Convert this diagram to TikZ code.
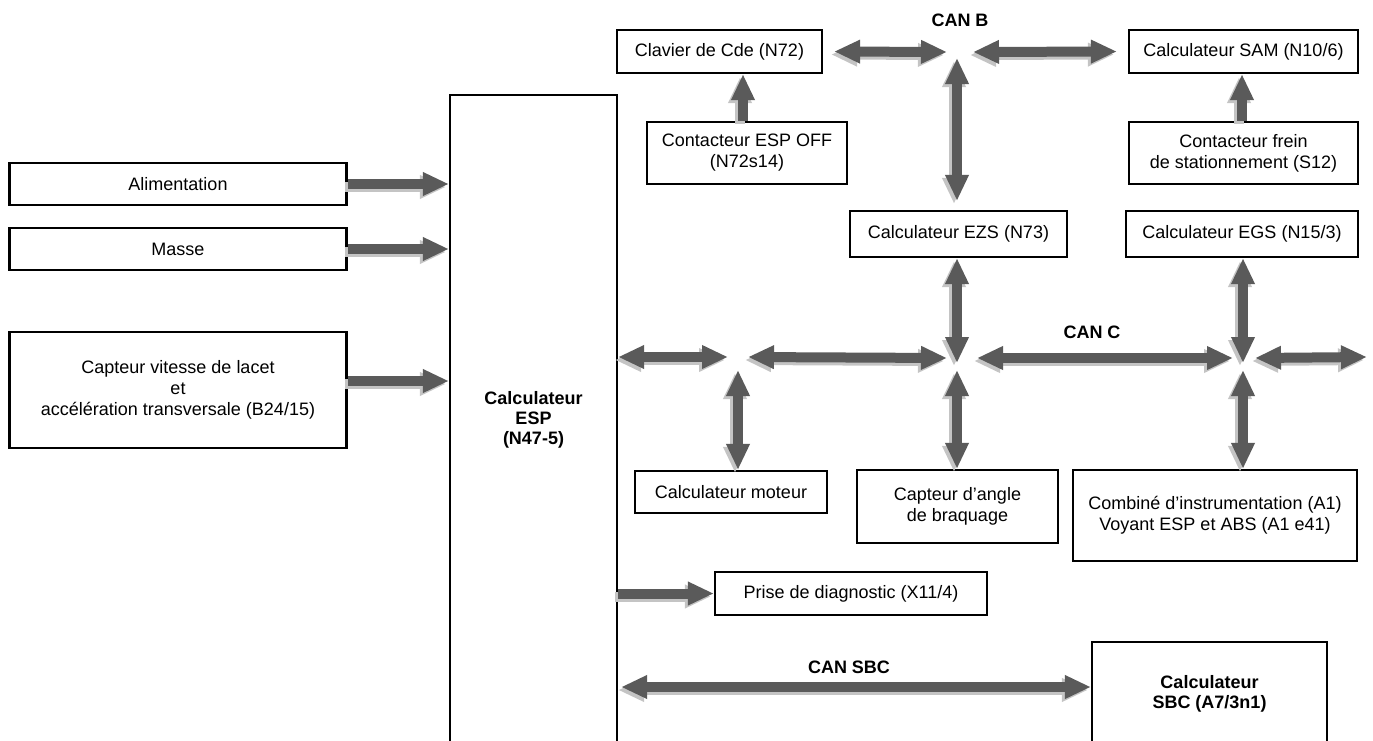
\documentclass[tikz,border=0pt]{standalone}
\usepackage{fontspec}
\setmainfont{Liberation Sans}
\usetikzlibrary{arrows.meta,calc}
\definecolor{arrgray}{HTML}{5A5A5A}
\definecolor{bevel}{HTML}{C4C4C4}
\begin{document}
\begin{tikzpicture}[x=1pt,y=-1pt,
  every node/.style={font=\fontsize{18}{21}\selectfont},
  box/.style={draw,line width=2.2pt,align=center,inner sep=0pt,anchor=center},
  lbl/.style={font=\bfseries\fontsize{18}{21}\selectfont},
  tipA/.tip={Triangle[length=26pt,width=22pt]},
  bus/.style={line width=10pt,draw=arrgray,
    preaction={draw=bevel,line width=10pt,transform canvas={xshift=-3pt,yshift=-3pt}}},
  one/.style={bus,-tipA},
  two/.style={bus,tipA-tipA}]
\useasboundingbox (0,0) rectangle (1373,740);
% boxes
\node[box,minimum width=337pt,minimum height=42pt] (alim) at (178,184) {Alimentation};
\node[box,minimum width=337pt,minimum height=42pt] (masse) at (178,249) {Masse};
\node[box,minimum width=337pt,minimum height=116pt] (capteur) at (178,390)
  {Capteur vitesse de lacet\\et\\accélération transversale (B24/15)};
\node[box,minimum width=167pt,minimum height=650pt,font=\bfseries\fontsize{18}{20}\selectfont] (esp) at (533.5,420)
  {Calculateur\\ESP\\(N47-5)};
\node[box,minimum width=205pt,minimum height=43pt] (clavier) at (719.5,51.5) {Clavier de Cde (N72)};
\node[box,minimum width=200pt,minimum height=62pt] (espoff) at (747,153) {Contacteur ESP OFF\\(N72s14)};
\node[box,minimum width=229pt,minimum height=43pt] (sam) at (1243.5,51.5) {Calculateur SAM (N10/6)};
\node[box,minimum width=229pt,minimum height=62pt] (frein) at (1243.5,153) {Contacteur frein\\de stationnement (S12)};
\node[box,minimum width=217pt,minimum height=46pt] (ezs) at (958.5,234) {Calculateur EZS (N73)};
\node[box,minimum width=232pt,minimum height=46pt] (egs) at (1242,234) {Calculateur EGS (N15/3)};
\node[box,minimum width=192pt,minimum height=42pt] (moteur) at (731,492) {Calculateur moteur};
\node[box,minimum width=201pt,minimum height=73pt] (angle) at (957.5,506.5) {Capteur d’angle\\de braquage};
\node[box,minimum width=284pt,minimum height=91pt] (combine) at (1215,515.5)
  {Combiné d’instrumentation (A1)\\Voyant ESP et ABS (A1 e41)};
\node[box,minimum width=272pt,minimum height=43pt] (prise) at (851,593.5) {Prise de diagnostic (X11/4)};
\node[box,minimum width=235pt,minimum height=103pt,font=\bfseries\fontsize{18}{20}\selectfont] (sbc) at (1209.5,693.5)
  {Calculateur\\SBC (A7/3n1)};
% labels
\node[lbl] (canb) at (960,20) {CAN B};
\node[lbl] (canc) at (1092,332) {CAN C};
\node[lbl] (cansbc) at (849,667) {CAN SBC};
% junctions
\coordinate (jB) at (957,52);
\coordinate (jM) at (738,357);
\coordinate (jC1) at (957,358);
\coordinate (jC2) at (1243,358);
\coordinate (eR) at (1367,357);
\coordinate (sbcY) at (0,687);
% arrows
\draw[one] (alim.east) -- (alim.east -| esp.west);
\draw[one] (masse.east) -- (masse.east -| esp.west);
\draw[one] ([yshift=9pt]capteur.east) -- ([yshift=9pt]capteur.east -| esp.west);
\draw[two] (esp.east |- jM) -- ([xshift=-10pt]jM);
\draw[two] ([xshift=10pt]jM) -- ([xshift=-10pt]jC1);
\draw[two] ([yshift=-13pt]jM) -- (moteur.north -| jM);
\draw[two] ([xshift=20pt]jC1) -- ([xshift=-10pt]jC2);
\draw[two] ([xshift=12pt]jC2) -- (eR);
\draw[two] (ezs.south -| jC1) -- ([yshift=-5pt]jC1);
\draw[two] ([yshift=-12pt]jC1) -- (angle.north -| jC1);
\draw[two] (egs.south -| jC2) -- ([yshift=-5pt]jC2);
\draw[two] ([yshift=-12pt]jC2) -- (combine.north -| jC2);
\draw[two] ([xshift=11pt]clavier.east) -- ([xshift=-10pt]jB);
\draw[two] ([xshift=16pt]jB) -- ([xshift=-11pt]sam.west);
\draw[two] ([yshift=-6pt]jB) -- ([yshift=9pt]ezs.north -| jB);
\draw[one] ([xshift=-4pt]espoff.north) -- ([xshift=-4pt]espoff.north |- clavier.south);
\draw[one] ([xshift=-1.5pt]frein.north) -- ([xshift=-1.5pt]frein.north |- sam.south);
\draw[one] (esp.east |- prise.west) -- (prise.west);
\draw[two] ([xshift=3pt]esp.east |- sbcY) -- (sbc.west |- sbcY);
\end{tikzpicture}
\end{document}
